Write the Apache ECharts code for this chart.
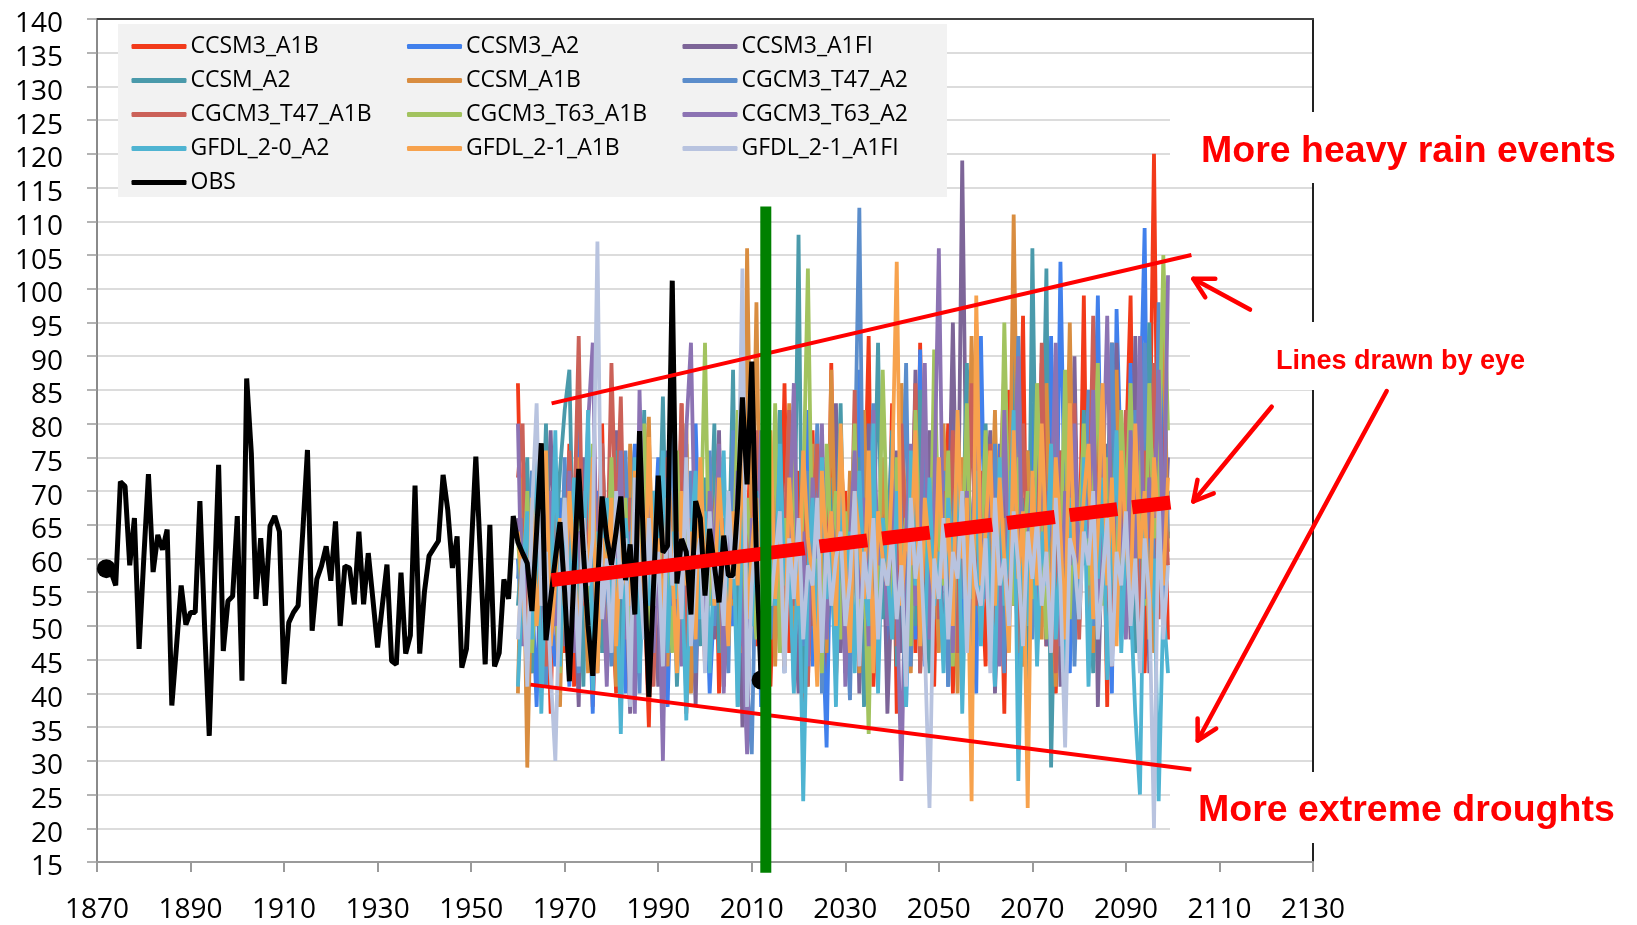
<!DOCTYPE html>
<html><head><meta charset="utf-8">
<script src="https://cdn.jsdelivr.net/npm/echarts@6/dist/echarts.min.js"></script>
<style>html,body{margin:0;padding:0;background:#fff}#c{width:1637px;height:925px}</style>
</head><body><div id="c"></div>
<script>
// ---------- DATA ----------
const modelStart = 1960;
const obsStart = 1872;
const OBS = [58.5,58,56,71.4,70.7,59,66,46.6,60,72.5,58,63.5,61.3,64.3,38.2,47,56,50.2,52,52,68.5,50,33.7,54,73.9,46.3,53.7,54.4,
 66.3,41.9,86.7,75.6,54,63,53,64.8,66.3,64,41.4,50.5,52,53,64,76.1,49.3,56.9,58.9,61.8,56.7,65.5,50,58.9,58.6,53.2,64,53.2,60.8,53.9,
 46.8,53,59.1,44.8,44.3,57.9,45.9,48.6,70.8,45.9,55,60.4,61.5,62.6,72.4,67.2,58.6,63.3,43.8,46.6,61,75.1,60,44.3,65,44,46,56.9,54,66.3,
 62.4,60.8,59.3,52.2,64,77.1,47.9,54,60,65.4,55,41.8,58,73.3,61,50,42.6,56,69.2,63,59.1,64,69.2,56.8,62.1,51.7,78.9,59,39.5,56,
 72.3,60.9,61.9,101.2,56.3,62.9,61,51.7,68.5,66,54.5,64.4,59,53.5,63.4,57.5,57.5,68,83.9,71,89.2,60,42];
const CCSM3_A1B = [86,53,64,43,75,48,61,37,69,57, 46,77,41,64,54,73,38,60,80,48, 57,40,70,50,76,44,63,56,35,67, 53,75,43,61,48,83,37,64,57,70,
 44,60,77,40,66,50,72,56,38,63, 80,47,59,69,41,64,53,86,46,61, 73,38,57,79,48,66,43,89,42,60, 70,51,76,44,63,93,41,57,67,47,
 83,37,64,56,75,46,92,53,61,41, 72,59,80,40,66,50,88,48,95,60, 44,76,56,69,37,85,53,63,96,43, 66,57,77,47,89,40,64,73,51,82,
 56,99,46,69,59,79,38,92,61,54, 75,99,50,66,43,70,120,57,83,48];
const CCSM3_A2 = [60,48,72,56,38,64,76,51,44,69, 57,41,63,82,50,60,37,70,54,64, 46,73,56,40,66,77,48,59,43,61, 75,53,38,64,57,48,72,41,80,56,
 63,40,54,76,46,66,50,60,85,43, 57,69,38,63,51,79,46,60,72,41, 64,54,82,44,61,53,32,70,48,75, 43,66,57,88,40,60,77,50,69,46,
 63,56,80,38,72,48,91,44,60,76, 51,67,41,86,59,46,75,63,40,93, 56,69,44,77,60,50,88,41,66,57, 83,47,70,60,93,53,104,63,43,76,
 59,80,48,69,99,56,64,40,97,72, 53,89,61,79,109,46,66,57,96,63];
const CCSM3_A1FI = [66,56,46,73,57,41,63,79,53,60, 47,69,59,38,75,54,64,43,70,51, 61,79,46,57,37,67,56,73,48,60, 41,64,76,53,59,69,46,63,38,72,
 56,66,48,79,43,61,54,70,35,59, 63,53,75,44,67,57,82,47,64,56, 40,72,60,50,77,43,66,56,83,46, 61,53,73,40,64,80,48,59,70,37,
 57,76,46,66,54,88,43,63,79,51, 69,46,61,95,56,119,63,43,75,53, 66,79,40,59,72,50,85,60,44,76, 54,67,89,47,63,80,41,69,57,90,
 50,73,61,86,38,66,77,53,92,59, 69,48,93,60,82,43,64,95,56,75];
const CCSM_A2 = [53,63,75,43,69,57,80,48,61,73, 82,88,54,64,41,75,59,69,46,66, 56,76,40,63,72,50,60,82,44,64, 57,84,51,67,41,60,77,54,64,47,
 72,59,80,46,63,56,88,38,69,60, 50,75,61,43,70,57,82,48,66,54, 108,40,63,76,53,66,46,72,57,83, 48,64,56,75,38,69,60,92,51,61,
 79,44,67,57,73,50,85,60,43,66, 56,76,63,46,70,59,89,40,67,57, 80,53,64,73,47,60,96,51,69,41, 106,57,66,103,29,63,76,48,72,60,
 54,82,64,43,75,56,69,92,50,66, 59,77,46,70,61,95,53,73,57,64];
const CCSM_A1B = [40,72,29,60,51,77,46,64,56,38, 69,57,47,75,63,43,66,53,73,50, 61,41,70,54,77,46,57,66,81,48, 64,56,44,72,53,61,80,40,59,67,
 48,75,57,63,41,69,53,79,46,106, 60,98,51,64,75,44,67,56,83,48, 61,72,41,77,54,64,46,88,57,69, 51,73,60,43,82,56,66,47,75,59,
 69,50,86,61,43,70,57,77,53,64, 46,80,59,67,40,75,56,93,63,48, 72,60,82,51,66,57,111,63,44,76, 56,69,48,86,61,41,73,59,95,53,
 66,77,57,46,83,63,70,53,88,60, 50,75,64,88,56,69,46,80,95,61];
const CGCM3_T47_A2 = [57,66,47,73,54,61,41,69,59,50, 75,53,63,43,70,56,64,48,77,57, 44,67,59,76,51,63,40,72,56,64, 69,48,60,82,46,66,56,73,43,63,
 59,76,50,67,57,43,79,63,53,42, 31,66,56,75,48,69,60,43,77,54, 64,47,73,57,80,40,67,60,50,76, 56,39,72,112,51,63,83,46,66,57,
 75,53,61,89,44,69,59,79,48,66, 57,73,41,64,82,54,63,48,86,60, 69,51,77,57,43,73,61,93,54,66, 48,80,60,70,53,87,57,64,75,44,
 67,59,85,50,72,61,54,92,63,75, 56,69,82,47,92,64,57,98,51,70];
const CGCM3_T47_A1B = [72,80,42,64,53,75,44,60,69,48, 57,76,64,93,53,70,43,61,77,56, 89,63,84,51,69,46,79,57,64,41, 67,54,75,48,61,83,43,66,56,73,
 50,69,59,77,41,63,54,75,47,66, 57,79,44,67,56,72,48,63,82,53, 60,73,41,66,77,50,69,57,46,76, 63,53,85,44,67,59,75,48,64,56,
 72,47,80,60,54,86,43,67,59,76, 51,70,61,79,46,66,57,86,53,73, 60,77,50,69,88,56,64,46,80,61, 70,53,92,59,66,43,76,63,56,83,
 48,72,61,96,54,79,60,44,73,64, 82,56,69,46,76,63,89,51,72,59];
const CGCM3_T63_A1B = [63,53,70,46,59,76,50,66,56,43, 69,57,47,73,60,51,77,44,64,56, 75,50,61,69,43,66,57,80,48,60, 54,72,63,46,76,56,66,50,70,60,
 92,53,64,75,44,63,57,82,51,69, 59,48,73,61,53,83,46,66,57,76, 51,69,103,56,64,43,77,60,70,48, 67,57,80,46,61,34,72,54,88,63,
 53,75,59,66,47,82,60,69,50,91, 63,56,76,44,72,60,83,53,66,59, 79,47,69,57,95,63,53,75,60,70, 54,86,64,48,77,67,59,88,51,73,
 61,80,56,69,89,53,75,64,57,82, 66,86,59,76,53,86,63,70,105,79];
const CGCM3_T63_A2 = [80,47,66,56,77,43,60,70,50,63, 54,73,46,64,57,80,92,53,61,41, 67,59,76,48,64,37,85,57,69,46, 61,30,72,53,63,44,79,92,56,66,
 47,70,59,77,40,64,54,73,50,31, 66,57,79,46,69,56,75,50,63,86, 53,64,44,72,60,80,48,67,57,75, 41,63,76,54,69,47,82,59,66,50,
 73,56,27,64,77,53,61,89,48,69, 106,57,66,46,79,60,70,51,86,63, 54,75,64,44,82,57,69,90,50,61, 72,53,77,60,66,92,47,70,59,80,
 56,73,63,85,51,69,96,57,76,64, 48,79,60,93,54,72,66,88,59,102];
const GFDL_2_0_A2 = [41,57,67,48,75,37,61,53,79,44, 63,54,72,47,59,82,40,64,56,69, 50,60,34,66,56,75,43,61,53,70, 57,76,46,64,54,60,36,63,73,51,
 67,43,60,56,76,48,64,38,69,57, 50,70,60,44,66,53,77,56,61,40, 64,24,57,69,47,75,54,63,38,72, 56,64,43,73,57,50,80,40,66,59,
 48,70,60,38,76,56,64,46,72,53, 61,43,69,59,77,37,64,54,73,47, 66,57,41,75,53,63,82,27,60,50, 72,44,64,56,77,48,61,37,69,59,
 51,75,41,64,57,72,42,61,79,46, 63,54,37,25,69,50,60,24,53,43];
const GFDL_2_1_A1B = [64,56,43,69,50,60,76,47,57,66, 53,70,59,48,66,56,75,43,63,57, 69,47,64,57,53,73,60,50,78,56, 63,51,69,59,43,70,56,64,48,75,
 57,66,53,72,60,47,67,56,77,51, 61,69,48,59,79,54,64,44,72,60, 53,76,63,57,41,73,60,67,50,80, 59,46,70,63,54,76,43,67,60,56,
 72,104,53,64,59,79,47,69,61,54, 75,57,66,50,82,60,69,24,99,56, 64,76,53,72,60,46,79,57,67,23, 73,56,80,61,53,75,64,48,83,60,
 57,69,77,51,64,86,56,72,47,76, 63,53,80,60,70,48,75,64,56,72];
const GFDL_2_1_A1FI = [48,60,41,67,83,53,61,43,30,57, 69,50,59,44,66,56,63,107,51,60, 46,70,54,63,38,72,57,48,66,53, 61,44,69,56,64,51,75,47,59,63,
 43,67,54,60,50,70,57,63,103,38, 56,64,47,72,53,60,67,43,63,54, 66,48,59,56,69,46,63,53,60,64, 50,57,70,44,61,54,66,48,60,56,
 64,51,59,41,69,57,63,47,23,60, 54,66,48,61,57,70,46,64,56,53, 63,43,69,56,60,50,67,59,47,64, 57,66,53,61,46,69,56,32,63,60,
 51,64,59,70,48,57,66,44,61,56, 67,50,60,43,63,54,20,69,48,59];

const MODEL_NAMES = ['CCSM3_A1B','CCSM3_A2','CCSM3_A1FI','CCSM_A2','CCSM_A1B','CGCM3_T47_A2','CGCM3_T47_A1B','CGCM3_T63_A1B','CGCM3_T63_A2','GFDL_2-0_A2','GFDL_2-1_A1B','GFDL_2-1_A1FI'];
const MODEL_VALUES = [CCSM3_A1B,CCSM3_A2,CCSM3_A1FI,CCSM_A2,CCSM_A1B,CGCM3_T47_A2,CGCM3_T47_A1B,CGCM3_T63_A1B,CGCM3_T63_A2,GFDL_2_0_A2,GFDL_2_1_A1B,GFDL_2_1_A1FI];
const MODEL_COLORS = ['#f23a1a','#4180ec','#7d6598','#4a9aab','#d98d40','#5b8dcb','#cb6158','#a2c35f','#8c73b3','#4fb4d2','#f7a24d','#b8c3df'];

// lines drawn by eye (data space)
const TREND_UPPER = [[1967.2, 83], [2104, 105]];
const TREND_LOWER = [[1962.7, 41.3], [2104, 28.7]];
const TREND_MID_SOLID = [[1967.2, 56.8], [2021.3, 61.5]];
const TREND_MID_DASHED = [[2024.5, 61.8], [2099.5, 68.3]];
const NOW_LINE = [[2013, 112.2], [2013, 13.4]];

const X_MIN = 1870, X_MAX = 2130, X_STEP = 20;
const Y_MIN = 15, Y_MAX = 140, Y_STEP = 5;

// ---------- CHART ----------
const chart = echarts.init(document.getElementById('c'), null, {renderer: 'canvas', width: 1637, height: 925});
const tickFont = {fontFamily: 'Open Sans', fontSize: 28, color: '#000'};

const series = MODEL_NAMES.map((name, k) => ({
  name, type: 'line', silent: true, showSymbol: false, color: MODEL_COLORS[k],
  lineStyle: {width: 3.8, color: MODEL_COLORS[k]},
  data: MODEL_VALUES[k].map((v, i) => [modelStart + i, v]), z: 2
}));
const lastObs = OBS.length - 1;
series.push({
  name: 'OBS', type: 'line', silent: true, color: '#000', showSymbol: true, symbol: 'none',
  lineStyle: {width: 5, color: '#000'}, itemStyle: {color: '#000'},
  data: OBS.map((v, i) => ({value: [obsStart + i, v], symbol: (i === 0 || i === lastObs) ? 'circle' : 'none', symbolSize: 19})),
  z: 3
});
const red = '#ff0000';
series.push({type: 'line', silent: true, showSymbol: false, data: TREND_UPPER, lineStyle: {width: 4, color: red}, z: 5});
series.push({type: 'line', silent: true, showSymbol: false, data: TREND_LOWER, lineStyle: {width: 4, color: red}, z: 5});
series.push({type: 'line', silent: true, showSymbol: false, data: TREND_MID_SOLID, lineStyle: {width: 14, color: red}, z: 5});
series.push({type: 'line', silent: true, showSymbol: false, data: TREND_MID_DASHED, lineStyle: {width: 14, color: red, type: [48, 15]}, z: 5});
series.push({type: 'line', silent: true, showSymbol: false, clip: false, data: NOW_LINE, lineStyle: {width: 11, color: '#008000'}, z: 6});

const col1 = ['CCSM3_A1B','CCSM_A2','CGCM3_T47_A1B','GFDL_2-0_A2','OBS'];
const col2 = ['CCSM3_A2','CCSM_A1B','CGCM3_T63_A1B','GFDL_2-1_A1B'];
const col3 = ['CCSM3_A1FI','CGCM3_T47_A2','CGCM3_T63_A2','GFDL_2-1_A1FI'];
const legendBase = {
  orient: 'vertical', top: 34.5, padding: 0, itemGap: 10, itemWidth: 55, itemHeight: 5,
  icon: 'roundRect', selectedMode: false, itemStyle: {borderWidth: 0},
  textStyle: {fontFamily: 'Open Sans', fontSize: 23, color: '#000', lineHeight: 24, padding: [0,0,0,-1]}
};

function arrow(tail, tip) {
  const dx = tip[0] - tail[0], dy = tip[1] - tail[1];
  const L = Math.hypot(dx, dy), ux = dx / L, uy = dy / L, a = 0.5, h = 22;
  const arm = s => [tip[0] - h * (ux * Math.cos(a) - s * uy * Math.sin(a)), tip[1] - h * (uy * Math.cos(a) + s * ux * Math.sin(a))];
  const st = {stroke: red, lineWidth: 4.5, fill: null, lineCap: 'round', lineJoin: 'round'};
  return [
    {type: 'polyline', z: 11, shape: {points: [tail, tip]}, style: st},
    {type: 'polyline', z: 11, shape: {points: [arm(1), tip, arm(-1)]}, style: st}
  ];
}

const annFont = {fontFamily: 'Liberation Sans', fontWeight: 'bold', fill: red, align: 'left', verticalAlign: 'middle'};
const yearLabel = v => String(v);

chart.setOption({
  animation: false,
  backgroundColor: '#fff',
  grid: {left: 97, right: 324, top: 19, bottom: 63, containLabel: false},
  xAxis: [
    {type: 'value', min: X_MIN, max: X_MAX, interval: X_STEP, position: 'bottom',
     axisLine: {lineStyle: {color: '#9a9a9a', width: 2}},
     axisTick: {show: true, length: 10, lineStyle: {color: '#9a9a9a', width: 2}},
     axisLabel: Object.assign({margin: 34, formatter: yearLabel}, tickFont), splitLine: {show: false}},
    {type: 'value', min: X_MIN, max: X_MAX, position: 'top',
     axisLine: {lineStyle: {color: '#404040', width: 2}}, axisTick: {show: false}, axisLabel: {show: false}, splitLine: {show: false}}
  ],
  yAxis: [
    {type: 'value', min: Y_MIN, max: Y_MAX, interval: Y_STEP,
     axisLine: {show: true, lineStyle: {color: '#8a8a8a', width: 2}},
     axisTick: {show: true, length: 10, lineStyle: {color: '#9a9a9a', width: 1.5}},
     axisLabel: Object.assign({margin: 34, verticalAlign: 'top', lineHeight: 11}, tickFont),
     splitLine: {show: true, lineStyle: {color: '#d0d0d0', width: 1.5}}},
    {type: 'value', min: Y_MIN, max: Y_MAX, position: 'right',
     axisLine: {show: true, lineStyle: {color: '#222', width: 2}}, axisTick: {show: false}, axisLabel: {show: false}, splitLine: {show: false}}
  ],
  legend: [
    Object.assign({left: 131.5, data: col1}, legendBase),
    Object.assign({left: 407, data: col2}, legendBase),
    Object.assign({left: 682.5, data: col3}, legendBase)
  ],
  graphic: {elements: [
    {type: 'rect', z: 1, shape: {x: 118, y: 24, width: 829, height: 173}, style: {fill: '#f2f2f2'}},
    {type: 'rect', z: 10, shape: {x: 1170, y: 112, width: 467, height: 71}, style: {fill: '#fff'}},
    {type: 'rect', z: 10, shape: {x: 1190, y: 322, width: 360, height: 68}, style: {fill: '#fff'}},
    {type: 'rect', z: 10, shape: {x: 1170, y: 772, width: 467, height: 71}, style: {fill: '#fff'}},
    ...arrow([1250, 309.6], [1193.3, 278.8]),
    ...arrow([1271.7, 406.7], [1193.3, 501.5]),
    ...arrow([1386.7, 391], [1197.7, 740.5]),
    {type: 'text', z: 12, x: 1201, y: 151.5, style: Object.assign({text: 'More heavy rain events', fontSize: 37.5}, annFont)},
    {type: 'text', z: 12, x: 1276, y: 362, style: Object.assign({text: 'Lines drawn by eye', fontSize: 27}, annFont)},
    {type: 'text', z: 12, x: 1198, y: 811, style: Object.assign({text: 'More extreme droughts', fontSize: 37.5}, annFont)}
  ]},
  series
});
</script></body></html>
